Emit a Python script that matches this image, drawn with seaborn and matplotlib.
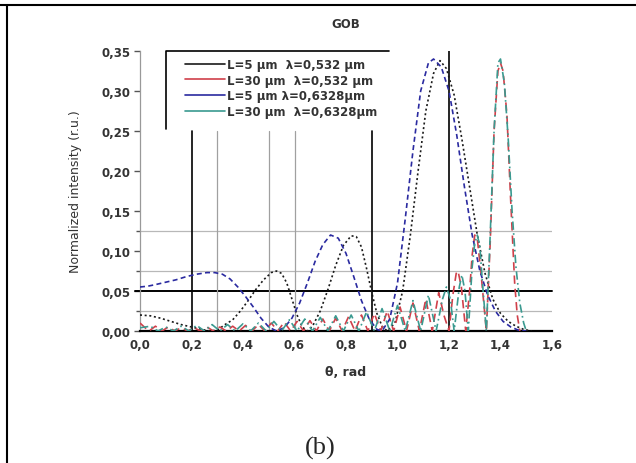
import matplotlib
matplotlib.use("Agg")
import matplotlib.pyplot as plt
from matplotlib.lines import Line2D
import seaborn as sns
import pandas as pd

# ---- data ----
x_b5 = [0.00, 0.03, 0.06, 0.10, 0.14, 0.18, 0.22, 0.26, 0.29, 0.32, 0.35, 0.38, 0.41, 0.44,
        0.47, 0.50, 0.53, 0.56, 0.59, 0.62, 0.65, 0.68, 0.71, 0.74, 0.77, 0.80, 0.83, 0.86,
        0.89, 0.92, 0.94, 0.97, 1.00, 1.03, 1.06, 1.09, 1.12, 1.14, 1.17, 1.20, 1.23, 1.26,
        1.29, 1.32, 1.35, 1.38, 1.41, 1.44, 1.47, 1.50]
y_b5 = [0.055, 0.056, 0.058, 0.061, 0.064, 0.068, 0.071, 0.073, 0.073, 0.071, 0.065, 0.055,
        0.043, 0.030, 0.016, 0.005, 0.000, 0.004, 0.016, 0.035, 0.060, 0.087, 0.108, 0.120,
        0.116, 0.097, 0.068, 0.038, 0.015, 0.002, 0.000, 0.015, 0.060, 0.140, 0.225, 0.300,
        0.335, 0.340, 0.330, 0.300, 0.245, 0.180, 0.120, 0.075, 0.045, 0.025, 0.012, 0.005,
        0.001, 0.000]

x_k5 = [0.00, 0.04, 0.08, 0.12, 0.16, 0.20, 0.24, 0.27, 0.30, 0.33, 0.36, 0.39, 0.42, 0.45,
        0.48, 0.51, 0.53, 0.55, 0.57, 0.59, 0.61, 0.63, 0.65, 0.67, 0.70, 0.73, 0.76, 0.79,
        0.82, 0.84, 0.86, 0.88, 0.90, 0.92, 0.94, 0.96, 0.99, 1.02, 1.05, 1.08, 1.11, 1.14,
        1.165, 1.19, 1.22, 1.25, 1.28, 1.31, 1.34, 1.37, 1.40, 1.43, 1.46, 1.49, 1.52]
y_k5 = [0.020, 0.019, 0.016, 0.012, 0.008, 0.005, 0.002, 0.000, 0.001, 0.008, 0.014, 0.025,
        0.038, 0.052, 0.064, 0.073, 0.075, 0.072, 0.060, 0.040, 0.020, 0.005, 0.000, 0.006,
        0.025, 0.052, 0.082, 0.107, 0.119, 0.118, 0.105, 0.078, 0.048, 0.022, 0.006, 0.000,
        0.010, 0.050, 0.120, 0.200, 0.275, 0.322, 0.338, 0.328, 0.295, 0.240, 0.180, 0.120,
        0.072, 0.040, 0.022, 0.012, 0.006, 0.002, 0.000]

x_r30 = [0.00, 0.02, 0.035, 0.06, 0.085, 0.11, 0.135, 0.16, 0.185, 0.21, 0.235, 0.26, 0.285,
         0.31, 0.335, 0.36, 0.385, 0.41, 0.435, 0.46, 0.485, 0.51, 0.535, 0.56, 0.585, 0.61,
         0.635, 0.66, 0.685, 0.71, 0.735, 0.76, 0.785, 0.81, 0.835, 0.86, 0.885, 0.91, 0.935,
         0.96, 0.985, 1.01, 1.035, 1.06, 1.085, 1.11, 1.135, 1.16, 1.18, 1.20, 1.215, 1.228,
         1.235, 1.248, 1.265, 1.28, 1.29, 1.30, 1.31, 1.325, 1.345, 1.36, 1.375, 1.39, 1.40,
         1.41, 1.425, 1.44, 1.455, 1.465, 1.475]
y_r30 = [0.010, 0.004, 0.000, 0.006, 0.000, 0.005, 0.000, 0.004, 0.000, 0.004, 0.000, 0.005,
         0.000, 0.005, 0.000, 0.006, 0.000, 0.007, 0.000, 0.008, 0.000, 0.010, 0.000, 0.011,
         0.000, 0.012, 0.000, 0.013, 0.000, 0.015, 0.000, 0.016, 0.000, 0.018, 0.000, 0.020,
         0.000, 0.022, 0.000, 0.025, 0.000, 0.030, 0.000, 0.035, 0.000, 0.040, 0.000, 0.048,
         0.020, 0.000, 0.045, 0.072, 0.075, 0.055, 0.000, 0.050, 0.095, 0.120, 0.115, 0.070,
         0.000, 0.110, 0.250, 0.325, 0.335, 0.325, 0.270, 0.160, 0.060, 0.020, 0.000]

x_t30 = [0.00, 0.04, 0.07, 0.10, 0.13, 0.16, 0.19, 0.22, 0.25, 0.28, 0.31, 0.34, 0.37, 0.40,
         0.43, 0.46, 0.49, 0.52, 0.55, 0.58, 0.61, 0.64, 0.67, 0.70, 0.73, 0.76, 0.79, 0.82,
         0.85, 0.88, 0.91, 0.94, 0.97, 1.00, 1.03, 1.06, 1.09, 1.12, 1.15, 1.175, 1.19, 1.205,
         1.22, 1.24, 1.25, 1.262, 1.275, 1.29, 1.30, 1.31, 1.32, 1.33, 1.345, 1.36, 1.375,
         1.39, 1.40, 1.415, 1.43, 1.445, 1.46, 1.475, 1.49, 1.50]
y_t30 = [0.004, 0.006, 0.000, 0.005, 0.000, 0.006, 0.000, 0.007, 0.000, 0.008, 0.000, 0.008,
         0.000, 0.009, 0.000, 0.010, 0.000, 0.012, 0.000, 0.014, 0.000, 0.015, 0.000, 0.017,
         0.000, 0.019, 0.000, 0.020, 0.000, 0.024, 0.000, 0.028, 0.000, 0.032, 0.000, 0.038,
         0.000, 0.045, 0.000, 0.040, 0.055, 0.040, 0.000, 0.055, 0.070, 0.050, 0.000, 0.080,
         0.110, 0.120, 0.105, 0.060, 0.000, 0.120, 0.250, 0.335, 0.340, 0.310, 0.240, 0.150,
         0.080, 0.035, 0.010, 0.000]

labels = ["L=5 \u00b5m  \u03bb=0,532 \u00b5m", "L=30 \u00b5m  \u03bb=0,532 \u00b5m",
          "L=5 \u00b5m \u03bb=0,6328\u00b5m", "L=30 \u00b5m  \u03bb=0,6328\u00b5m"]
colors = ["#1a1a1a", "#d0404a", "#2a2aa0", "#3a9a90"]

hline_black = [0.05]
hlines_gray = [0.025, 0.075, 0.125]
vlines_black = [0.2, 0.9]
vlines_gray = [0.3, 0.5, 0.6]
vline_full = [1.2]

yticks = [0.00, 0.05, 0.10, 0.15, 0.20, 0.25, 0.30, 0.35]
yticks_minor = [0.025, 0.075, 0.125]
xticks = [0.0, 0.2, 0.4, 0.6, 0.8, 1.0, 1.2, 1.4, 1.6]

# ---- figure ----
sns.set_theme(style="white")
plt.rcParams['font.family'] = ['DejaVu Sans']
fig = plt.figure(figsize=(6.36, 4.64), dpi=100)
ax = fig.add_axes([140/636, 132/464, 412/636, 280/464])

# page frame (top and left rules)
fig.add_artist(Line2D([0, 1], [1 - 6/464, 1 - 6/464], color="black", lw=1.5,
                      transform=fig.transFigure))
fig.add_artist(Line2D([7/636, 7/636], [0, 1 - 6/464], color="black", lw=1.5,
                      transform=fig.transFigure))

# reference lines
for y in hlines_gray:
    ax.axhline(y, color="#b8b8b8", lw=0.9, zorder=1)
for y in hline_black:
    ax.axhline(y, xmin=-0.012, color="black", lw=1.4, zorder=1, clip_on=False)
for x in vlines_gray:
    ax.axvline(x, ymax=0.25/0.35, color="#a0a0a0", lw=0.9, zorder=1)
for x in vlines_black:
    ax.axvline(x, ymax=0.25/0.35, color="black", lw=1.2, zorder=1)
for x in vline_full:
    ax.axvline(x, color="black", lw=1.2, zorder=1)

series = [(x_k5, y_k5, (0, (1.2, 1.6))),
          (x_r30, y_r30, (0, (5, 3))),
          (x_b5, y_b5, (0, (3, 2))),
          (x_t30, y_t30, (0, (5, 2, 1, 2)))]
for (xs, ys, ls), c in zip(series, colors):
    df = pd.DataFrame({"x": xs, "y": ys})
    sns.lineplot(data=df, x="x", y="y", ax=ax, color=c, lw=1.2, sort=False,
                 estimator=None, linestyle=ls, zorder=3)

ax.set_xlim(0, 1.6)
ax.set_ylim(0, 0.35)
ax.set_xticks(xticks)
ax.set_yticks(yticks)
ax.set_yticks(yticks_minor, minor=True)
ax.set_xticklabels([f"{v:.1f}".replace(".", ",") for v in xticks])
ax.set_yticklabels([f"{v:.2f}".replace(".", ",") for v in yticks])
ax.tick_params(axis="y", which="major", direction="out", length=4, width=1,
               color="#555555", labelsize=8.5, pad=3, left=True)
ax.tick_params(axis="y", which="minor", direction="out", length=3, width=1,
               color="#555555", left=True)
ax.tick_params(axis="x", length=0, labelsize=8.5, pad=5)
for lab in ax.get_xticklabels() + ax.get_yticklabels():
    lab.set_fontweight("bold")
    lab.set_color("#333333")

for s in ["top", "right"]:
    ax.spines[s].set_visible(False)
ax.spines["left"].set_color("#999999")
ax.spines["left"].set_linewidth(0.9)
ax.spines["bottom"].set_color("black")
ax.spines["bottom"].set_linewidth(1.6)

ax.set_xlabel("\u03b8, rad", fontsize=9, fontweight="bold", color="#333333", labelpad=10)
ax.set_ylabel("Normalized intensity (r.u.)", fontsize=9, color="#333333", labelpad=14)
ax.set_title("GOB", fontsize=8.5, fontweight="bold", color="#333333", pad=17)

# legend with partial frame
handles = [Line2D([0], [0], color=c, lw=1.2) for c in colors]
leg = ax.legend(handles, labels, loc="upper left", bbox_to_anchor=(0.109, 0.975),
                frameon=False, fontsize=8.5, handlelength=3.4, handletextpad=0.2,
                labelspacing=0.22, borderpad=0, borderaxespad=0)
for t in leg.get_texts():
    t.set_fontweight("bold")
    t.set_color("#333333")
ax.add_line(Line2D([0.0625, 0.0625, 0.604], [0.72, 1.0, 1.0], color="black", lw=1.2,
                   transform=ax.transAxes, clip_on=False))

fig.text(320/636, 1 - 448/464, "(b)", ha="center", va="center", fontsize=19,
         family="Liberation Serif")

fig.savefig("out.png", dpi=100)
